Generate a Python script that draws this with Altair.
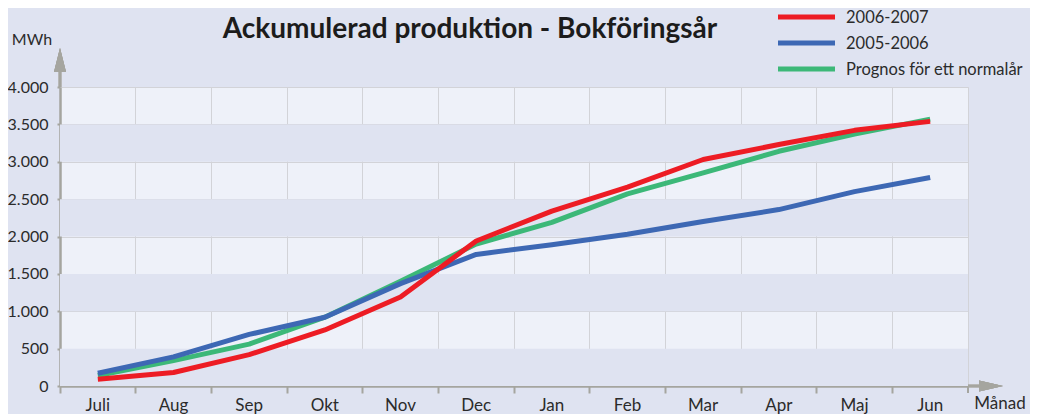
import altair as alt
import pandas as pd

months = ["Juli", "Aug", "Sep", "Okt", "Nov", "Dec", "Jan", "Feb", "Mar", "Apr", "Maj", "Jun"]
series_names = ["2006-2007", "2005-2006", "Prognos för ett normalår"]
red_2006_2007 = [90, 180, 420, 750, 1190, 1940, 2340, 2660, 3030, 3230, 3420, 3540]
blue_2005_2006 = [170, 390, 690, 920, 1370, 1760, 1890, 2030, 2200, 2360, 2600, 2790]
green_prognos = [140, 340, 560, 920, 1400, 1900, 2190, 2570, 2850, 3140, 3370, 3570]
y_ticks = [0, 500, 1000, 1500, 2000, 2500, 3000, 3500, 4000]
dark_band_starts = [0, 1000, 2000, 3000]
band_size = 500

colors = ["#ed1c24", "#3d68b4", "#3cb878"]
BG = "#dfe3f1"
LIGHT = "#eef1f9"
GRID = "#d2d3d8"
AXIS = "#a5a59f"
TEXT = "#2b2b2b"
FONT = "Lato"

W, H = 908, 299

rows = []
# draw order: green (bottom), blue, red (top)
for name, vals in [(series_names[2], green_prognos), (series_names[1], blue_2005_2006), (series_names[0], red_2006_2007)]:
    for m, v in zip(months, vals):
        rows.append({"month": m, "value": v, "series": name})
df = pd.DataFrame(rows)

bands = pd.DataFrame({"lo": dark_band_starts, "hi": [b + band_size for b in dark_band_starts]})
legend_df = pd.DataFrame({"series": series_names, "row": list(range(len(series_names)))})

yscale = alt.Scale(domain=[0, 4000], nice=False)
xscale = alt.Scale(type="band", domain=months, paddingInner=0, paddingOuter=0)
cscale = alt.Scale(domain=series_names, range=colors)

band_layer = alt.Chart(bands).mark_rect(color=BG).encode(
    x=alt.value(0), x2=alt.value(W),
    y=alt.Y("lo:Q", scale=yscale, axis=None), y2="hi:Q",
)

y_axis = alt.Axis(title=None, orient="left", values=y_ticks, grid=True, gridColor=GRID, gridWidth=1,
                  ticks=True, tickSize=3, tickColor=AXIS, tickWidth=2,
                  domainColor=AXIS, domainWidth=2.5,
                  labelExpr="replace(format(datum.value, ','), ',', '.')",
                  labelFont=FONT, labelFontSize=16, labelColor=TEXT, labelPadding=9)

lines = alt.Chart(df).mark_line(strokeWidth=5, strokeCap="butt", strokeJoin="round").encode(
    x=alt.X("month:N", scale=xscale, sort=months, bandPosition=0.5,
            axis=alt.Axis(title=None, bandPosition=0, grid=True, gridColor=GRID, gridWidth=1,
                          ticks=True, tickSize=7, tickColor=AXIS, tickWidth=2,
                          domainColor=AXIS, domainWidth=2.5, labelAngle=0,
                          labelFont=FONT, labelFontSize=17, labelColor=TEXT, labelPadding=4)),
    y=alt.Y("value:Q", scale=yscale, axis=y_axis),
    color=alt.Color("series:N", scale=cscale, legend=None),
)

# manual legend
leg_y = alt.Y("row:Q", scale=alt.Scale(domain=[0, 2], range=[-70, -18], nice=False, zero=False), axis=None)
legend_lines = alt.Chart(legend_df).mark_rule(strokeWidth=5).encode(
    x=alt.value(718), x2=alt.value(775), y=leg_y,
    color=alt.Color("series:N", scale=cscale, legend=None),
)
legend_text = alt.Chart(legend_df).mark_text(font=FONT, fontSize=16.5, color=TEXT,
                                             align="left", baseline="middle", dy=1).encode(
    x=alt.value(786), y=leg_y, text="series:N",
)

# axis arrows (decoration)
y_arrow_line = alt.Chart(bands).mark_rule(color=AXIS, strokeWidth=2.5).encode(
    x=alt.value(0), y=alt.value(0), y2=alt.value(-16))
y_arrow_head = alt.Chart(bands).mark_point(
    shape="M0,-1L0.5,1L-0.5,1Z", filled=True, color=AXIS, opacity=1, size=576).encode(
    x=alt.value(0), y=alt.value(-27))
x_arrow_line = alt.Chart(bands).mark_rule(color=AXIS, strokeWidth=2.5).encode(
    x=alt.value(W), x2=alt.value(W + 12), y=alt.value(H))
x_arrow_head = alt.Chart(bands).mark_point(
    shape="M1,0L-1,0.45L-1,-0.45Z", filled=True, color=AXIS, opacity=1, size=576).encode(
    x=alt.value(W + 23), y=alt.value(H))
x_end_tick = alt.Chart(bands).mark_rule(color=AXIS, strokeWidth=2).encode(
    x=alt.value(W), y=alt.value(H), y2=alt.value(H + 7))

title = alt.Chart(pd.DataFrame({"t": ["Ackumulerad produktion - Bokföringsår"]})).mark_text(
    font=FONT, fontSize=28, fontWeight="bold", color="#1c1c1c",
    align="center", baseline="alphabetic").encode(
    text="t:N", x=alt.value(410), y=alt.value(-49))
ylab = alt.Chart(pd.DataFrame({"t": ["MWh"]})).mark_text(
    font=FONT, fontSize=16, color=TEXT, align="center", baseline="alphabetic").encode(
    text="t:N", x=alt.value(-28), y=alt.value(-42))
xlab = alt.Chart(pd.DataFrame({"t": ["Månad"]})).mark_text(
    font=FONT, fontSize=17, color=TEXT, align="center", baseline="alphabetic").encode(
    text="t:N", x=alt.value(940), y=alt.value(322))

chart = alt.layer(
    band_layer, lines, legend_lines, legend_text,
    y_arrow_line, y_arrow_head, x_arrow_line, x_arrow_head, x_end_tick,
    title, ylab, xlab
).resolve_scale(
    y="independent"
).properties(
    width=W, height=H,
    autosize=alt.AutoSizeParams(type="none"),
    padding={"left": 52, "top": 79, "right": 62, "bottom": 28},
    background=BG,
).configure_view(
    fill=LIGHT, stroke=GRID, strokeWidth=1
)

chart.save("out.html", embed_options={"renderer": "svg", "actions": False})
